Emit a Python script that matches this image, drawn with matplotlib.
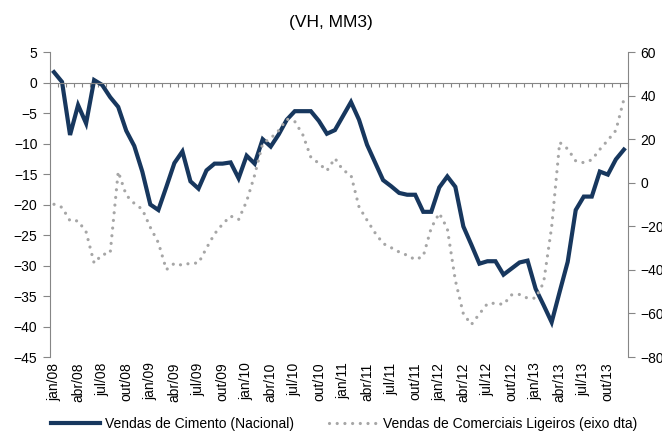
import numpy as np
import matplotlib
matplotlib.use('Agg')
import matplotlib.pyplot as plt

# data (monthly, jan/08 .. dez/13)
years = ['08', '09', '10', '11', '12', '13']
month_names = ['jan', 'fev', 'mar', 'abr', 'mai', 'jun',
               'jul', 'ago', 'set', 'out', 'nov', 'dez']

# cement sales, yoy % (left axis)
cimento = [1.7, 0.1, -8.6, -3.7, -6.7, 0.4, -0.4, -2.4, -4.0, -7.9, -10.4, -14.6,
           -20.0, -20.9, -17.1, -13.2, -11.3, -16.2, -17.4, -14.4, -13.3, -13.3, -13.1, -15.7,
           -12.0, -13.3, -9.3, -10.5, -8.5, -6.1, -4.7, -4.7, -4.7, -6.3, -8.4, -7.8,
           -5.5, -3.2, -6.1, -10.2, -13.1, -16.0, -17.0, -18.1, -18.4, -18.4, -21.2, -21.2,
           -17.2, -15.4, -17.1, -23.6, -26.6, -29.7, -29.3, -29.3, -31.5, -30.5, -29.5, -29.2,
           -33.8, -36.5, -39.3, -34.3, -29.4, -20.9, -18.7, -18.7, -14.6, -15.1, -12.6, -11.0]

# light commercial vehicle sales, yoy % (right axis)
ligeiros = [-9.9, -11.3, -17.5, -17.5, -22.6, -36.9, -33.0, -32.3, 5.1, -5.7, -9.5, -12.2,
            -20.5, -27.5, -39.9, -37.0, -37.9, -36.9, -36.9, -30.0, -23.5, -19.0, -15.3, -16.9,
            -8.5, 3.5, 18.1, 20.4, 24.0, 29.2, 28.1, 22.0, 11.7, 8.9, 5.5, 11.2,
            5.8, 3.5, -11.1, -17.2, -23.0, -27.9, -29.8, -31.8, -33.3, -35.3, -33.8, -20.7,
            -14.0, -21.0, -44.8, -60.2, -65.1, -60.2, -55.5, -55.3, -55.9, -51.5, -51.3, -53.0,
            -53.0, -45.8, -20.3, 18.5, 15.5, 10.0, 9.2, 10.5, 15.3, 19.5, 24.0, 38.3]

left_ticks = list(range(5, -50, -5))
right_ticks = list(range(60, -100, -20))

#%%
plt.rcParams['font.family'] = ['Liberation Sans', 'DejaVu Sans']
grey = '#868686'
navy = '#17375E'
dots = '#A6A6A6'

labels = [m + '/' + y for y in years for m in month_names]
idx = np.arange(len(labels))

fig = plt.figure(figsize=(6.62, 4.32), dpi=100)
ax = fig.add_axes([0.0755, 0.1736, 0.873, 0.706])
ax2 = ax.twinx()

line1, = ax.plot(idx, cimento, color=navy, lw=3, solid_joinstyle='miter',
                 label='Vendas de Cimento (Nacional)')
line2, = ax2.plot(idx, ligeiros, color=dots, lw=2.3, linestyle=(0, (0.01, 2.4)),
                  dash_capstyle='round', label='Vendas de Comerciais Ligeiros (eixo dta)')

ax.set_xlim(-0.5, len(labels) - 0.5)
ax.set_ylim(-45, 5)
ax2.set_ylim(-80, 60)
ax.set_yticks(left_ticks)
ax2.set_yticks(right_ticks)

# zero line with monthly tick marks
ax.spines['bottom'].set_position(('data', 0))
ax.spines['bottom'].set_color(grey)
ax.set_xticks(np.arange(-0.5, len(labels), 1))
ax.tick_params(axis='x', length=3, color=grey, labelbottom=False)

# quarter labels at the bottom
sec = ax.secondary_xaxis('bottom')
sec.set_xticks(idx[::3], labels[::3], rotation=90, fontsize=10)
sec.tick_params(length=0, pad=4)
sec.spines['bottom'].set_visible(False)

for s in ['top', 'right']:
    ax.spines[s].set_visible(False)
for s in ['top', 'bottom', 'left']:
    ax2.spines[s].set_visible(False)
ax.spines['left'].set_color(grey)
ax2.spines['right'].set_color(grey)
ax.tick_params(axis='y', length=5, color=grey, labelsize=10, pad=4)
ax2.tick_params(axis='y', length=5, color=grey, labelsize=10, pad=4)

fig.text(0.5, 1 - 22 / 432, '(VH, MM3)', ha='center', va='center', fontsize=12.5)

fig.legend([line1, line2], [line1.get_label(), line2.get_label()],
           loc='center', bbox_to_anchor=(0.52, 0.018), ncol=2, frameon=False,
           fontsize=10, handlelength=3.5, columnspacing=2.5, handletextpad=0.4)

plt.savefig('out.png', dpi=100)
plt.close()
